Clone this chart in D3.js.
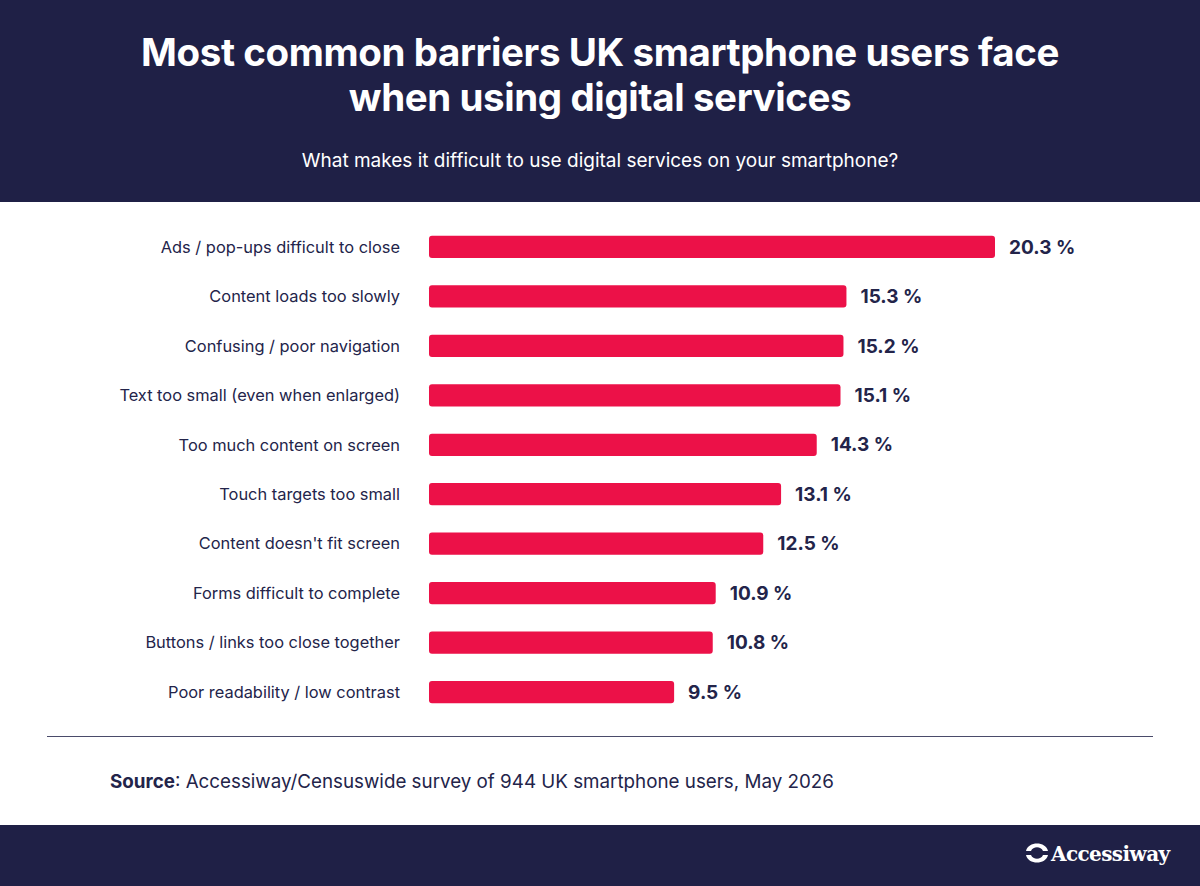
<!DOCTYPE html>
<html><head><meta charset="utf-8">
<script src="https://cdn.jsdelivr.net/npm/d3@7"></script>
<style>
html,body{margin:0;padding:0;background:#fff;}
svg{display:block;}
</style></head>
<body>
<svg id="chart" width="1200" height="886"></svg>
<script>
const categories = [
  "Ads / pop-ups difficult to close",
  "Content loads too slowly",
  "Confusing / poor navigation",
  "Text too small (even when enlarged)",
  "Too much content on screen",
  "Touch targets too small",
  "Content doesn't fit screen",
  "Forms difficult to complete",
  "Buttons / links too close together",
  "Poor readability / low contrast"
];
const values = [20.3, 15.3, 15.2, 15.1, 14.3, 13.1, 12.5, 10.9, 10.8, 9.5];
const titleLines = ["Most common barriers UK smartphone users face", "when using digital services"];
const subtitle = "What makes it difficult to use digital services on your smartphone?";
const sourceLabel = "Source";
const sourceText = ": Accessiway/Censuswide survey of 944 UK smartphone users, May 2026";
const brand = "Accessiway";

const W = 1200, H = 886;
const navy = "#1f2046", red = "#ec1148", textCol = "#23244a";
const FONT = "Inter, 'Liberation Sans', Arial, sans-serif";
const svg = d3.select("#chart");

// header
svg.append("rect").attr("x",0).attr("y",0).attr("width",W).attr("height",202).attr("fill",navy);
svg.selectAll("text.title").data(titleLines).join("text")
  .attr("class","title")
  .attr("x",W/2).attr("y",(d,i)=>66+i*45)
  .attr("text-anchor","middle").attr("fill","#fff")
  .attr("font-family",FONT).attr("font-weight",700).attr("font-size",38.5)
  .attr("letter-spacing","-0.4")
  .text(d=>d);
svg.append("text").attr("x",W/2).attr("y",167).attr("text-anchor","middle")
  .attr("fill","#fff").attr("font-family",FONT).attr("font-size",19).text(subtitle);

// scales
const x = d3.scaleLinear().domain([1.25, 20.3]).range([429, 995]);
const y = d3.scaleBand().domain(categories).range([221, 718]).paddingInner(0.55).paddingOuter(0.3);

const g = svg.append("g");
g.selectAll("rect.bar").data(values).join("rect")
  .attr("class","bar")
  .attr("x", x.range()[0])
  .attr("y",(d,i)=>y(categories[i]))
  .attr("width",d=>x(d)-x.range()[0])
  .attr("height",y.bandwidth())
  .attr("rx",3).attr("fill",red);

g.selectAll("text.cat").data(categories).join("text")
  .attr("class","cat")
  .attr("x",400).attr("y",d=>y(d)+y.bandwidth()/2)
  .attr("dy","0.35em").attr("text-anchor","end")
  .attr("fill",textCol).attr("font-family",FONT).attr("font-size",16.4)
  .text(d=>d);

g.selectAll("text.val").data(values).join("text")
  .attr("class","val")
  .attr("x",d=>x(d)+14).attr("y",(d,i)=>y(categories[i])+y.bandwidth()/2)
  .attr("dy","0.35em")
  .attr("fill",textCol).attr("font-family",FONT).attr("font-weight",700).attr("font-size",19)
  .text(d=>d.toFixed(1)+" %");

// divider
svg.append("line").attr("x1",47).attr("x2",1153).attr("y1",736.5).attr("y2",736.5)
  .attr("stroke","#4a4b6a").attr("stroke-width",1.2);

// source
const src = svg.append("text").attr("x",110).attr("y",788)
  .attr("fill",textCol).attr("font-family",FONT).attr("font-size",18.8);
src.append("tspan").attr("font-weight",700).text(sourceLabel);
src.append("tspan").text(sourceText);

// footer
svg.append("rect").attr("x",0).attr("y",825).attr("width",W).attr("height",61).attr("fill",navy);
const logo = svg.append("g").attr("transform","translate(1037,853)");
logo.append("path").attr("d","M-11,-2 C-9,-12 9,-12 11,-2 L6,-2 C4,-7 -4,-7 -6,-2 Z").attr("fill","#fff");
logo.append("path").attr("d","M-11,2 C-9,12 9,12 11,2 L6,2 C4,7 -4,7 -6,2 Z").attr("fill","#fff");
svg.append("text").attr("x",1051).attr("y",861).attr("fill","#fff")
  .attr("font-family","'DejaVu Serif','Liberation Serif',serif").attr("font-weight",700)
  .attr("font-size",20).attr("letter-spacing","-0.6").text(brand);
</script>
</body></html>
